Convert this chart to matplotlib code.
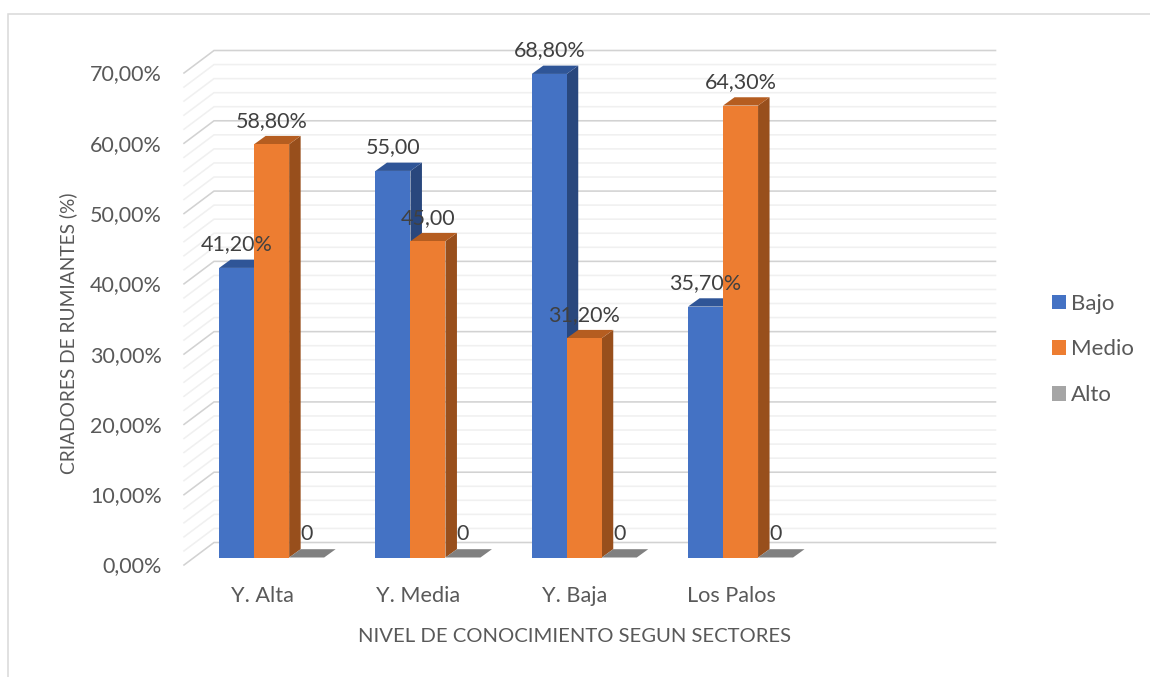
import matplotlib
matplotlib.use("Agg")
import matplotlib.pyplot as plt
from matplotlib.patches import Polygon, Patch
from matplotlib.lines import Line2D

plt.rcParams["font.family"] = ["Lato", "DejaVu Sans"]

# Survey results by sector
sectors = ["Y. Alta", "Y. Media", "Y. Baja", "Los Palos"]
bajo = [41.2, 55.0, 68.8, 35.7]
medio = [58.8, 45.0, 31.2, 64.3]
alto = [0, 0, 0, 0]
bajo_labels = ["41,20%", "55,00", "68,80%", "35,70%"]
medio_labels = ["58,80%", "45,00", "31,20%", "64,30%"]
alto_labels = ["0", "0", "0", "0"]
y_ticks = [0, 10, 20, 30, 40, 50, 60, 70]
y_tick_labels = ["0,00%", "10,00%", "20,00%", "30,00%", "40,00%", "50,00%", "60,00%", "70,00%"]
series_names = ["Bajo", "Medio", "Alto"]
x_title = "NIVEL DE CONOCIMIENTO SEGUN SECTORES"
y_title = "CRIADORES DE RUMIANTES (%)"

W, H = 1150, 677
fig = plt.figure(figsize=(W / 100, H / 100), dpi=100)
# Axes rectangle is the front edge of the 3D floor and wall box
left, right, bottom, top = 184, 965.5, 565, 73
ax = fig.add_axes([left / W, 1 - bottom / H, (right - left) / W, (bottom - top) / H])
ax.set_xlim(-0.5, 4.5)
ax.set_ylim(0, 70)
ax.axis("off")

px_x = (right - left) / 5
px_y = (bottom - top) / 70

# Depth of the chart box
box_dx, box_dy = 30 / px_x, 22.5 / px_y
# Depth and placement of the bars inside the box
bar_dx, bar_dy = 11.5 / px_x, 8.3 / px_y
bar_base = 7.5 / px_y
bar_w = 35 / px_x
group_offset = -43 / px_x

# Back-wall and side-wall grid
for v in range(0, 71, 2):
    major = v % 10 == 0
    color = "#d2d2d2" if major else "#f0f0f0"
    ax.plot([-0.5, -0.5 + box_dx, 4.5 + box_dx], [v, v + box_dy, v + box_dy],
            color=color, lw=1.15, clip_on=False, zorder=2 if major else 1,
            solid_joinstyle="miter")

faces = {
    "Bajo": ("#4472C4", "#2F5597", "#29477D"),
    "Medio": ("#ED7D31", "#B55D20", "#984F1C"),
    "Alto": ("#A5A5A5", "#808080", "#6E6E6E"),
}


def draw_bar(x, value, name, z):
    front, lid, side = faces[name]
    y0, y1 = bar_base, bar_base + value
    if value > 0:
        ax.add_patch(Polygon([(x + bar_w, y0), (x + bar_w + bar_dx, y0 + bar_dy),
                              (x + bar_w + bar_dx, y1 + bar_dy), (x + bar_w, y1)],
                             fc=side, ec="none", clip_on=False, zorder=z))
        ax.add_patch(Polygon([(x, y0), (x + bar_w, y0), (x + bar_w, y1), (x, y1)],
                             fc=front, ec="none", clip_on=False, zorder=z + 0.2))
    ax.add_patch(Polygon([(x, y1), (x + bar_w, y1), (x + bar_w + bar_dx, y1 + bar_dy),
                          (x + bar_dx, y1 + bar_dy)],
                         fc=lid, ec="none", clip_on=False, zorder=z + 0.1))


label_kw = dict(textcoords="offset pixels", ha="center", va="center",
                fontsize=15.5, color="#404040", zorder=20, annotation_clip=False)
for i in range(len(sectors)):
    rows = [(bajo, bajo_labels, "Bajo"), (medio, medio_labels, "Medio"), (alto, alto_labels, "Alto")]
    for j, (vals, labs, name) in enumerate(rows):
        x = i + group_offset + j * bar_w
        draw_bar(x, vals[i], name, 5 + i + j * 0.3)
        ax.annotate(labs[i], (x + bar_w / 2, bar_base + vals[i]), xytext=(0, 23.5), **label_kw)

# Value-axis labels sit just left of the box
for v, lab in zip(y_ticks, y_tick_labels):
    ax.annotate(lab, (-0.5, v), xytext=(-22, -1.5), textcoords="offset pixels", ha="right",
                va="center", fontsize=15.5, color="#595959", annotation_clip=False)

# Category labels below the floor
for i, lab in enumerate(sectors):
    ax.annotate(lab, (i, 0), xytext=(0, -31), textcoords="offset pixels", ha="center",
                va="center", fontsize=15.6, color="#595959", annotation_clip=False)

fig.text(575 / W, 1 - 636 / H, x_title, ha="center", va="center", fontsize=14.6, color="#595959")
fig.text(68 / W, 1 - 333 / H, y_title, ha="center", va="center", rotation=90, fontsize=13.8, color="#595959")

handles = [Patch(fc=faces[n][0], ec="none") for n in series_names]
fig.legend(handles, series_names, loc="center left", bbox_to_anchor=(1052 / W, 1 - 349.5 / H),
           frameon=False, fontsize=16, labelcolor="#595959", handlelength=0.63, handleheight=0.63,
           handletextpad=0.23, labelspacing=1.15, borderpad=0, borderaxespad=0)

# Outer chart frame, cut by the edge of the image on two sides
fig.add_artist(Line2D([8 / W, 8 / W, 1], [0, 1 - 14 / H, 1 - 14 / H], color="#d9d9d9", lw=1.1,
                      transform=fig.transFigure, solid_joinstyle="miter"))

fig.savefig("out.png", dpi=100, facecolor="white")
